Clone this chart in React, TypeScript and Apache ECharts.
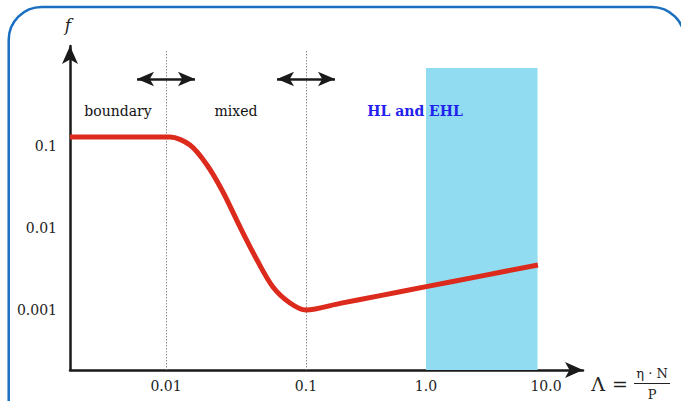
import React, { useEffect, useRef } from "react";
import * as echarts from "echarts";

// Stribeck curve values (Λ, f)
const lambdaValues = [0.00206, 0.00769, 0.01068, 0.01484, 0.01963, 0.02553, 0.03378, 0.04467, 0.05809, 0.07686, 0.1, 0.1925, 0.416, 1.029, 2.858, 8.57];
const frictionValues = [0.129, 0.129, 0.1288, 0.1028, 0.0587, 0.02748, 0.01029, 0.00407, 0.001908, 0.001217, 0.001, 0.001204, 0.001498, 0.00194, 0.002591, 0.00354];

// x-axis ticks
const xTickValues = [0.01, 0.1, 1, 10];
const xTickLabels = ["0.01", "0.1", "1.0", "10.0"];
// y-axis ticks
const yTickValues = [0.1, 0.01, 0.001];
const yTickLabels = ["0.1", "0.01", "0.001"];

// regimes
const regimeNames = ["boundary", "mixed", "HL and EHL"];
const transitions = [0.01, 0.1];
const hlBand = [1, 8.5];

// schematic (piecewise log) scale of the original figure
const toS = (l: number) => {
  const d = Math.log10(l);
  return d <= -1 ? d + 2 : 1 + (d + 1) * (120 / 140);
};
const toY = (f: number) => Math.log10(f);

const X_MIN = -0.6857;
const X_MAX = 2.9786;
const Y_MIN = -3.7317;
const Y_MAX = 0.2195;

const SERIF = "'DejaVu Serif', 'Liberation Serif', serif";

export default function App() {
  const ref = useRef<HTMLDivElement>(null);
  useEffect(() => {
    if (!ref.current) return;
    const chart = echarts.init(ref.current, undefined, { renderer: "svg" });
    const curve = lambdaValues.map((l, i) => [toS(l), toY(frictionValues[i])]);
    const xCustom = xTickValues.map(toS);
    const yCustom = yTickValues.map(toY);
    const dottedTop = 0.159;
    const arrowY = -0.183;
    const bandTop = -0.049;
    chart.setOption({
      animation: false,
      backgroundColor: "#ffffff",
      grid: { left: 70, top: 46, width: 513, height: 324, outerBoundsMode: "none", containLabel: false },
      xAxis: {
        type: "value",
        min: X_MIN,
        max: X_MAX,
        splitLine: { show: false },
        axisTick: { show: false },
        axisLine: {
          onZero: false,
          lineStyle: { color: "#1a1a1a", width: 2.5 },
          symbol: ["none", "arrow"],
          symbolSize: [12, 18],
        },
        axisLabel: {
          customValues: xCustom,
          formatter: (v: number) => {
            const i = xCustom.findIndex((c) => Math.abs(c - v) < 1e-6);
            return i >= 0 ? xTickLabels[i] : "";
          },
          color: "#222",
          fontFamily: SERIF,
          fontSize: 14,
          margin: 9,
        },
      },
      yAxis: {
        type: "value",
        min: Y_MIN,
        max: Y_MAX,
        splitLine: { show: false },
        axisTick: { show: false },
        axisLine: {
          onZero: false,
          lineStyle: { color: "#1a1a1a", width: 2.5 },
          symbol: ["none", "arrow"],
          symbolSize: [12, 18],
        },
        axisLabel: {
          customValues: yCustom,
          formatter: (v: number) => {
            const i = yCustom.findIndex((c) => Math.abs(c - v) < 1e-6);
            return i >= 0 ? yTickLabels[i] : "";
          },
          color: "#222",
          fontFamily: SERIF,
          fontSize: 14,
          margin: 13,
        },
      },
      series: [
        {
          type: "line",
          data: curve,
          smooth: 0.3,
          showSymbol: false,
          silent: true,
          z: 5,
          lineStyle: { color: "#dc2a1d", width: 5 },
          markArea: {
            silent: true,
            itemStyle: { color: "#91dcf0" },
            data: [[{ coord: [toS(hlBand[0]), Y_MIN] }, { coord: [toS(hlBand[1]), bandTop] }]],
          },
          markLine: {
            silent: true,
            symbol: ["none", "none"],
            label: { show: false },
            lineStyle: { color: "#8a8a8a", width: 1, type: [1.5, 1.5] },
            data: transitions.map((t) => [
              { coord: [toS(t), dottedTop] },
              { coord: [toS(t), Y_MIN] },
            ]),
          },
        },
        {
          type: "line",
          data: [],
          silent: true,
          markLine: {
            silent: true,
            symbol: ["arrow", "arrow"],
            symbolSize: [11, 17],
            label: { show: false },
            lineStyle: { color: "#1a1a1a", width: 2.5, type: "solid" },
            data: transitions.map((t) => [
              { coord: [toS(t) - 0.207, arrowY] },
              { coord: [toS(t) + 0.207, arrowY] },
            ]),
          },
        },
      ],
      graphic: [
        {
          type: "rect",
          shape: { x: 8.7, y: 7, width: 676, height: 440, r: 33 },
          style: { fill: "none", stroke: "#1a6fc0", lineWidth: 2.5 },
          silent: true,
        },
        {
          type: "text",
          x: 68,
          y: 25,
          style: { text: "f", font: `italic 17px ${SERIF}`, fill: "#222", textAlign: "center", textVerticalAlign: "middle" },
        },
        {
          type: "text",
          x: 118,
          y: 111,
          style: { text: regimeNames[0], font: `14px ${SERIF}`, fill: "#111", textAlign: "center", textVerticalAlign: "middle" },
        },
        {
          type: "text",
          x: 236,
          y: 111,
          style: { text: regimeNames[1], font: `14px ${SERIF}`, fill: "#111", textAlign: "center", textVerticalAlign: "middle" },
        },
        {
          type: "text",
          x: 415,
          y: 111,
          z: 10,
          style: { text: regimeNames[2], font: `bold 14px ${SERIF}`, fill: "#2222ee", textAlign: "center", textVerticalAlign: "middle" },
        },
        {
          type: "text",
          x: 598,
          y: 384,
          style: { text: "Λ", font: `19px ${SERIF}`, fill: "#222", textAlign: "center", textVerticalAlign: "middle" },
        },
        {
          type: "text",
          x: 620,
          y: 384,
          style: { text: "=", font: `19px ${SERIF}`, fill: "#222", textAlign: "center", textVerticalAlign: "middle" },
        },
        {
          type: "text",
          x: 652,
          y: 373,
          style: { text: "η · N", font: `13px ${SERIF}`, fill: "#222", textAlign: "center", textVerticalAlign: "middle" },
        },
        {
          type: "line",
          shape: { x1: 634, y1: 383.5, x2: 670, y2: 383.5 },
          style: { stroke: "#222", lineWidth: 1.2 },
        },
        {
          type: "text",
          x: 652,
          y: 394,
          style: { text: "P", font: `13px ${SERIF}`, fill: "#222", textAlign: "center", textVerticalAlign: "middle" },
        },
      ],
    });
    return () => chart.dispose();
  }, []);
  return (
    <div
      ref={ref}
      style={{ position: "fixed", left: 0, top: 0, width: 681, height: 401, background: "#fff" }}
    />
  );
}
